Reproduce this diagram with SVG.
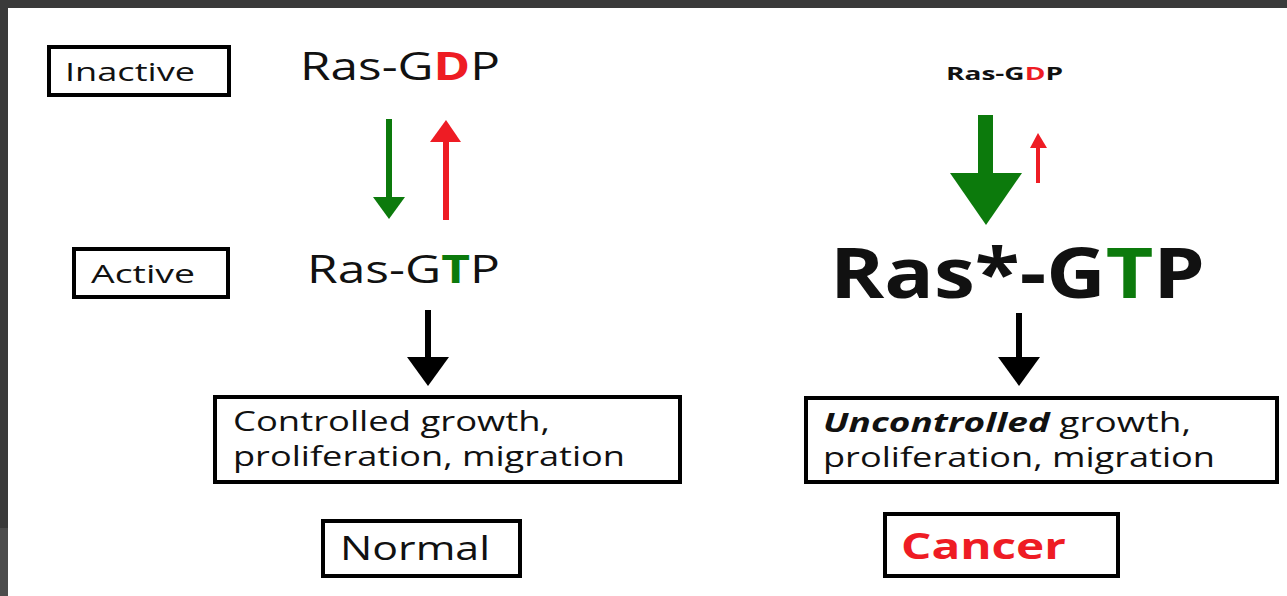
<svg xmlns="http://www.w3.org/2000/svg" width="1287" height="596" viewBox="0 0 1287 596">
<style>
.box{fill:#fff;stroke:#000;stroke-width:4}
.t{font-family:"Open Sans","Noto Sans",sans-serif;fill:#111}
.b{font-weight:bold}
.g{fill:#0c7a0c}
.r{fill:#ee1c24}
</style>
<rect x="0" y="0" width="1287" height="596" fill="#fff"/>
<rect x="0" y="0" width="1287" height="8" fill="#3a3a3a"/>
<rect x="0" y="0" width="8" height="528" fill="#3a3a3a"/>
<rect x="0" y="528" width="8" height="68" fill="#4c4c4c"/>

<g id="inactive">
<rect class="box" x="49" y="47" width="180" height="48"/>
<text class="t" x="65" y="81" font-size="25" textLength="130" lengthAdjust="spacingAndGlyphs">Inactive</text>
</g>
<g id="active">
<rect class="box" x="74" y="249" width="154" height="48"/>
<text class="t" x="91" y="283" font-size="25" textLength="104" lengthAdjust="spacingAndGlyphs">Active</text>
</g>
<g id="ras-gdp-left">
<text class="t" x="300" y="80" font-size="39" textLength="200" lengthAdjust="spacingAndGlyphs">Ras-G<tspan class="r b">D</tspan>P</text>
</g>
<g id="ras-gtp-left">
<text class="t" x="307" y="283" font-size="39" textLength="193" lengthAdjust="spacingAndGlyphs">Ras-G<tspan class="g b">T</tspan>P</text>
</g>
<g id="controlled">
<rect class="box" x="215" y="397" width="465" height="85"/>
<text class="t" x="233" y="431" font-size="27" textLength="317" lengthAdjust="spacingAndGlyphs">Controlled growth,</text>
<text class="t" x="233" y="466" font-size="27" textLength="392" lengthAdjust="spacingAndGlyphs">proliferation, migration</text>
</g>
<g id="normal">
<rect class="box" x="323" y="521" width="197" height="55"/>
<text class="t" x="340" y="560" font-size="32" textLength="150" lengthAdjust="spacingAndGlyphs">Normal</text>
</g>

<g id="ras-gdp-right">
<text class="t b" x="946" y="80" font-size="18" textLength="117" lengthAdjust="spacingAndGlyphs">Ras-G<tspan class="r">D</tspan>P</text>
</g>
<g id="ras-gtp-right">
<text class="t b" x="830" y="298" font-size="70" textLength="375" lengthAdjust="spacingAndGlyphs">Ras*-G<tspan class="g">T</tspan>P</text>
</g>
<g id="uncontrolled">
<rect class="box" x="806" y="398" width="471" height="84"/>
<text class="t" x="823" y="432" font-size="27" textLength="368" lengthAdjust="spacingAndGlyphs"><tspan class="b" font-style="italic">Uncontrolled</tspan> growth,</text>
<text class="t" x="823" y="467" font-size="27" textLength="392" lengthAdjust="spacingAndGlyphs">proliferation, migration</text>
</g>
<g id="cancer">
<rect class="box" x="885" y="514" width="233" height="62"/>
<text class="t b r" x="901" y="559" font-size="36" textLength="165" lengthAdjust="spacingAndGlyphs">Cancer</text>
</g>

<g id="connectors">
<rect x="386" y="119" width="6" height="80" class="g"/>
<polygon points="373,197 405,197 389,219" class="g"/>
<rect x="443" y="140" width="6" height="80" class="r"/>
<polygon points="430,142 461,142 446,120" class="r"/>
<rect x="425" y="310" width="6" height="49" fill="#000"/>
<polygon points="407,357 449,357 428,386" fill="#000"/>
<rect x="978" y="115" width="15" height="60" class="g"/>
<polygon points="950,173 1022,173 986,225" class="g"/>
<rect x="1036" y="145" width="4" height="38" class="r"/>
<polygon points="1030,148 1047,148 1038,133" class="r"/>
<rect x="1016" y="313" width="6" height="46" fill="#000"/>
<polygon points="998,357 1040,357 1019,386" fill="#000"/>
</g>
</svg>
